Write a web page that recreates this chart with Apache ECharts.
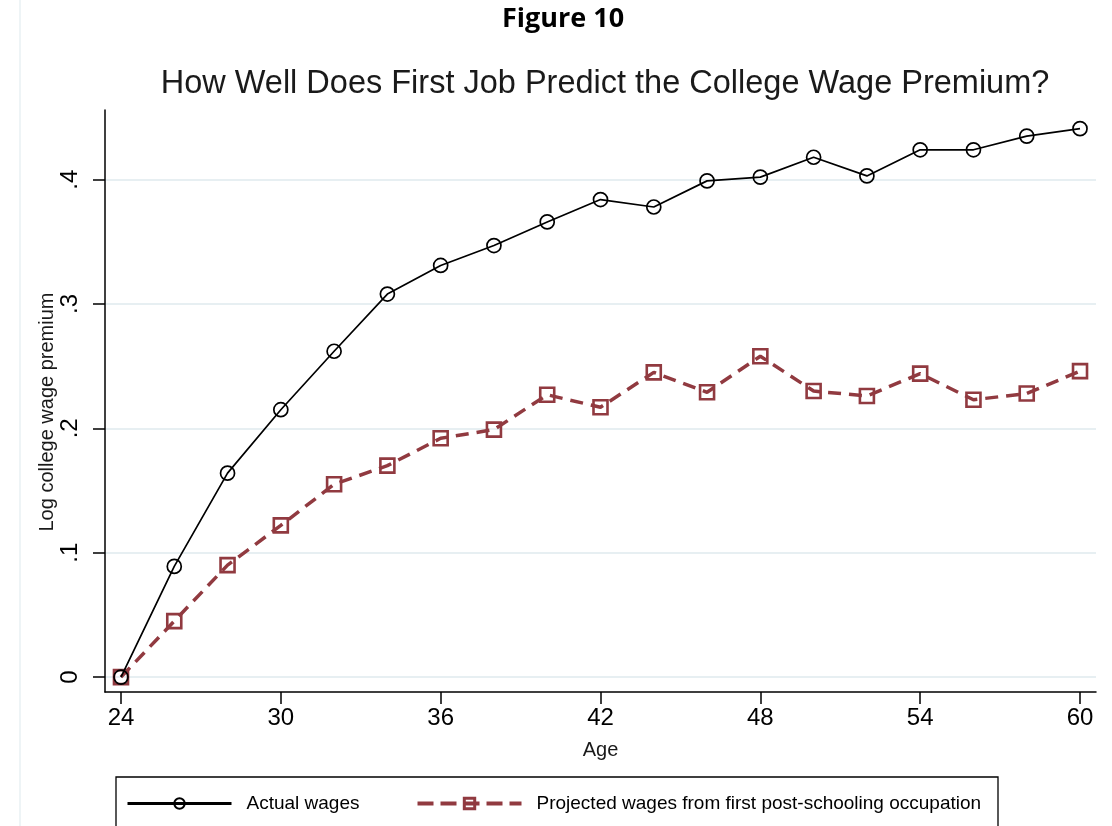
<!DOCTYPE html>
<html>
<head>
<meta charset="utf-8">
<style>
  html, body { margin: 0; padding: 0; background: #fff; }
  #chart { width: 1112px; height: 826px; }
</style>
<script src="https://cdn.jsdelivr.net/npm/echarts@6/dist/echarts.min.js"></script>
</head>
<body>
<div id="chart"></div>
<script>
// ages on the x axis
const ages = [24, 26, 28, 30, 32, 34, 36, 38, 40, 42, 44, 46, 48, 50, 52, 54, 56, 58, 60];
// log college wage premium
const actualWages = [0, 0.089, 0.164, 0.215, 0.262, 0.308, 0.331, 0.347, 0.366, 0.384,
  0.378, 0.399, 0.402, 0.418, 0.403, 0.424, 0.424, 0.435, 0.441];
const projectedWages = [0, 0.045, 0.090, 0.122, 0.155, 0.170, 0.192, 0.199, 0.227, 0.217,
  0.245, 0.229, 0.258, 0.230, 0.226, 0.244, 0.223, 0.228, 0.246];
const xTicks = [24, 30, 36, 42, 48, 54, 60];
const yTicks = [0, 0.1, 0.2, 0.3, 0.4];
const yTickLabels = ["0", ".1", ".2", ".3", ".4"];

const font = "Arial, 'Liberation Sans', sans-serif";
const maroon = "#913a40";

let myChart = echarts.init(document.getElementById("chart"));
let option = {
  backgroundColor: "#fff",
  animation: false,
  title: [
    {
      text: "Figure 10",
      left: 558,
      textAlign: "center",
      top: 1,
      textStyle: { fontFamily: "'Open Sans', sans-serif", fontWeight: "bold", fontSize: 27, color: "#000" },
    },
    {
      text: "How Well Does First Job Predict the College Wage Premium?",
      left: 600,
      textAlign: "center",
      top: 63,
      textStyle: { fontFamily: font, fontWeight: "normal", fontSize: 32.5, color: "#1a1a1a" },
    },
  ],
  grid: { left: 105, right: 16, top: 110, bottom: 134 },
  xAxis: {
    type: "value",
    min: 23.4,
    max: 60.6,
    name: "Age",
    nameLocation: "middle",
    nameGap: 48,
    nameTextStyle: { fontFamily: font, fontSize: 20, color: "#1a1a1a" },
    axisLine: { show: true, onZero: false, lineStyle: { color: "#000", width: 1.5 } },
    axisTick: { show: true, length: 12, customValues: xTicks, lineStyle: { color: "#000", width: 1.5 } },
    axisLabel: { customValues: xTicks, fontFamily: font, fontSize: 24, color: "#000", margin: 14 },
    splitLine: { show: false },
  },
  yAxis: {
    type: "value",
    min: -0.012,
    max: 0.456,
    axisLine: { show: true, onZero: false, lineStyle: { color: "#000", width: 1.5 } },
    axisTick: { show: true, length: 12, customValues: yTicks, lineStyle: { color: "#000", width: 1.5 } },
    axisLabel: {
      customValues: yTicks,
      rotate: 90,
      fontFamily: font,
      fontSize: 24,
      color: "#000",
      margin: 23,
      formatter: (v) => yTickLabels[yTicks.findIndex((t) => Math.abs(t - v) < 1e-6)] || "",
    },
    splitLine: { show: true, lineStyle: { color: "#e7eff2", width: 2 } },
  },
  legend: {
    left: 121,
    top: 789,
    itemWidth: 104,
    itemHeight: 13,
    itemGap: 56,
    textStyle: { fontFamily: font, fontSize: 19, color: "#000", padding: [0, 0, 0, 10] },
    data: [
      {
        name: "Actual wages",
        lineStyle: { width: 3, color: "#000" },
        itemStyle: { borderWidth: 2 },
      },
      {
        name: "Projected wages from first post-schooling occupation",
        lineStyle: { width: 4, color: maroon, type: [16, 7] },
        itemStyle: { borderWidth: 3 },
      },
    ],
  },
  graphic: [
    {
      type: "rect",
      shape: { x: 116, y: 777, width: 882, height: 60 },
      style: { fill: "none", stroke: "#000", lineWidth: 1.3 },
      z: 1,
    },
    {
      type: "line",
      shape: { x1: 20, y1: 0, x2: 20, y2: 826 },
      style: { stroke: "#eef4f6", lineWidth: 2 },
    },
    {
      // y axis title
      type: "text",
      x: 47,
      y: 412,
      rotation: Math.PI / 2,
      style: {
        text: "Log college wage premium",
        font: "20px Arial, 'Liberation Sans', sans-serif",
        fill: "#1a1a1a",
        textAlign: "center",
        textVerticalAlign: "middle",
      },
    },
  ],
  series: [
    {
      name: "Actual wages",
      type: "line",
      data: ages.map((a, i) => [a, actualWages[i]]),
      symbol: "circle",
      symbolSize: 14,
      lineStyle: { color: "#000", width: 1.7 },
      itemStyle: { color: "rgba(0,0,0,0)", borderColor: "#000", borderWidth: 1.7 },
      z: 3,
    },
    {
      name: "Projected wages from first post-schooling occupation",
      type: "line",
      data: ages.map((a, i) => [a, projectedWages[i]]),
      symbol: "rect",
      symbolSize: 14,
      lineStyle: { color: maroon, width: 3.5, type: [13, 8] },
      itemStyle: { color: "rgba(0,0,0,0)", borderColor: maroon, borderWidth: 2.6 },
      z: 2,
    },
  ],
};
myChart.setOption(option);
</script>
</body>
</html>
